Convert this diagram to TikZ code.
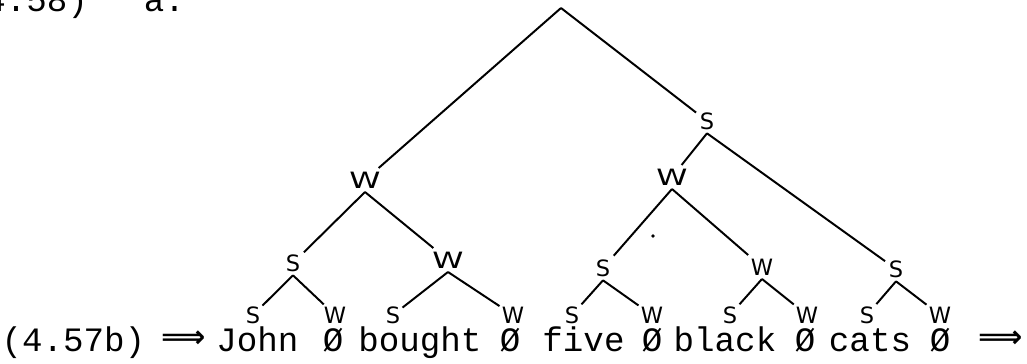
\documentclass[tikz,border=0pt]{standalone}
\usepackage{amsmath,amssymb}
\usepackage{graphicx}
\usepackage{fontspec}
\setmonofont{Liberation Mono}
\newfontfamily\labfont{DejaVu Sans}
\usepackage{tikz}
\newcommand{\wideW}{\scalebox{1.4}[1]{W}}
\tikzset{
  lab/.style={font=\fontsize{16}{19}\selectfont\labfont,inner sep=2pt},
  leaf/.style={lab,inner sep=1pt},
  word/.style={font=\fontsize{24.3}{28}\selectfont\ttfamily,anchor=base,inner sep=0pt},
  arrsym/.style={font=\fontsize{22}{26}\selectfont\labfont\bfseries,inner sep=0pt}
}
\begin{document}
\begin{tikzpicture}[x=0.025cm,y=-0.025cm,line width=1.4pt]
\useasboundingbox (0,0) rectangle (1027,363);
% example number, cut at the top
\node[word,anchor=base west] (exnum) at (-36,11) {(4.58)};
\node[word,anchor=base west] (exlab) at (143,11) {a.};
% the line of words
\node[word] (num) at (73.5,351) {(4.57b)};
\node[arrsym] (arrl) at (184,339.5) {⟹};
\node[word] (john) at (257.5,351) {John};
\node[word] (nulla) at (333,351) {Ø};
\node[word] (bought) at (420,351) {bought};
\node[word] (nullb) at (510,351) {Ø};
\node[word] (five) at (583.5,351) {five};
\node[word] (nullc) at (652,351) {Ø};
\node[word] (black) at (725,351) {black};
\node[word] (nulld) at (805,351) {Ø};
\node[word] (cats) at (870,351) {cats};
\node[word] (nulle) at (940,351) {Ø};
\node[arrsym] (arrr) at (1001,339.5) {⟹};
% leaves
\node[leaf] (l1) at (253,315) {S};
\node[leaf] (l2) at (335,315) {W};
\node[leaf] (l3) at (393,315) {S};
\node[leaf] (l4) at (513,315) {W};
\node[leaf] (l5) at (572,315) {S};
\node[leaf] (l6) at (652,315) {W};
\node[leaf] (l7) at (730,315) {S};
\node[leaf] (l8) at (807,315) {W};
\node[leaf] (l9) at (867,315) {S};
\node[leaf] (l10) at (940,315) {W};
% upper levels
\node[lab] (g1) at (293,263) {S};
\node[lab] (g2) at (448,260) {\wideW};
\node[lab] (g3) at (603,268) {S};
\node[lab] (g4) at (762,267) {W};
\node[lab] (g5) at (896,269) {S};
\node[lab] (m1) at (365,180) {\wideW};
\node[lab] (m2) at (672,177) {\wideW};
\node[lab] (m3) at (707,121) {S};
\coordinate (r) at (561,8);
% branches
\draw (r) -- (m1) (r) -- (m3);
\draw (m1.south) -- (g1) (m1.south) -- (g2);
\draw (m3.south) -- (m2) (m3.south) -- (g5);
\draw (m2.south) -- (g3) (m2.south) -- (g4);
\draw (g1.south) -- (l1) (g1.south) -- (l2);
\draw (g2.south) -- (l3) (g2.south) -- (l4);
\draw (g3.south) -- (l5) (g3.south) -- (l6);
\draw (g4.south) -- (l7) (g4.south) -- (l8);
\draw (g5.south) -- (l9) (g5.south) -- (l10);
\fill (653,236) circle[radius=1.4pt];
\end{tikzpicture}
\end{document}
